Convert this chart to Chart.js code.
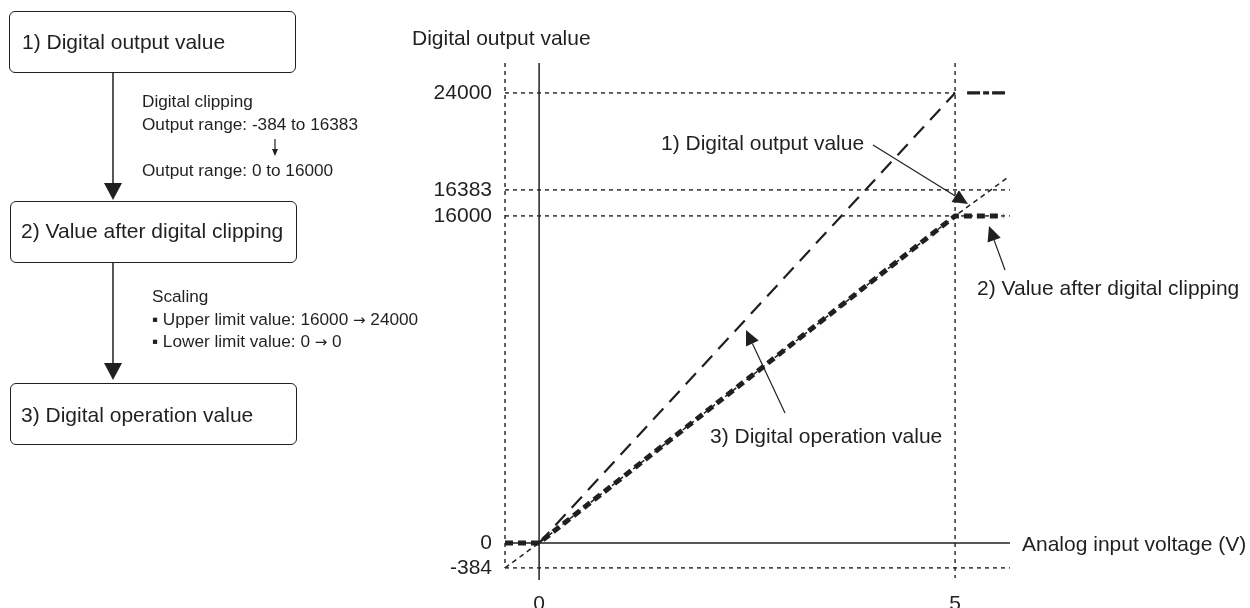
<!DOCTYPE html>
<html>
<head>
<meta charset="utf-8">
<script src="https://cdn.jsdelivr.net/npm/chart.js@4.4.0/dist/chart.umd.min.js"></script>
<style>
html, body { margin: 0; padding: 0; background: #fff; }
body { width: 1250px; height: 608px; position: relative; overflow: hidden;
       font-family: "Liberation Sans", Arial, sans-serif; color: #231f20; }
#chart { position: absolute; left: 0; top: 0; }
.t { position: absolute; white-space: nowrap; line-height: 1; }
.big { font-size: 21px; }
.small { font-size: 17.2px; }
.arr { font-family: "DejaVu Sans", sans-serif; font-size: 15px; }
.box { position: absolute; width: 287px; height: 62px; border: 1.5px solid #231f20;
       border-radius: 6px; box-sizing: border-box; }
</style>
</head>
<body>
<canvas id="chart" width="1250" height="608"></canvas>

<!-- flow chart on the left -->
<div class="box" style="left:9px;top:11px"></div>
<div class="box" style="left:10px;top:201px"></div>
<div class="box" style="left:10px;top:383px"></div>
<svg style="position:absolute;left:0;top:0" width="320" height="460">
  <line x1="113" y1="72" x2="113" y2="186" stroke="#231f20" stroke-width="1.5"/>
  <polygon points="104,183 122,183 113,200" fill="#231f20"/>
  <line x1="113" y1="263" x2="113" y2="366" stroke="#231f20" stroke-width="1.5"/>
  <polygon points="104,363 122,363 113,380" fill="#231f20"/>
  <line x1="275" y1="139" x2="275" y2="152" stroke="#231f20" stroke-width="1.2"/>
  <polygon points="272,149 278,149 275,156" fill="#231f20"/>
</svg>
<div class="t big" style="left:22px;top:31px">1) Digital output value</div>
<div class="t big" style="left:21px;top:220px">2) Value after digital clipping</div>
<div class="t big" style="left:21px;top:404px">3) Digital operation value</div>
<div class="t small" style="left:142px;top:93px">Digital clipping</div>
<div class="t small" style="left:142px;top:116px">Output range: -384 to 16383</div>
<div class="t small" style="left:142px;top:162px">Output range: 0 to 16000</div>
<div class="t small" style="left:152px;top:288px">Scaling</div>
<div class="t small" style="left:152px;top:311px">▪ Upper limit value: 16000 <span class="arr">→</span> 24000</div>
<div class="t small" style="left:152px;top:333px">▪ Lower limit value: 0 <span class="arr">→</span> 0</div>

<!-- chart texts -->
<div class="t big" style="left:412px;top:27px">Digital output value</div>
<div class="t big" style="left:1022px;top:533px">Analog input voltage (V)</div>
<div class="t big" style="left:661px;top:132px">1) Digital output value</div>
<div class="t big" style="left:977px;top:277px">2) Value after digital clipping</div>
<div class="t big" style="left:710px;top:425px">3) Digital operation value</div>

<script>
// 1) digital output value
var voltage1 = [-0.41, 0, 5, 5.43, 5.62];
var outputValue = [-384, 0, 16000, 16383, 17300];
// 2) value after digital clipping
var voltage2 = [-0.41, 0, 5, 5.58];
var clippedValue = [0, 0, 16000, 16000];
// 3) digital operation value
var voltage3 = [0, 5, 5.6];
var operationValue = [0, 24000, 24000];

var xTicks = [0, 5];
var yTicks = [-384, 0, 16000, 16383, 24000];

// the drawing is not to scale: each band between y ticks has its own height
var yBandPx = [-25, 0, 327, 353, 450];

function interp(v, from, to) {
    var i = 0;
    while (i < from.length - 2 && v > from[i + 1]) i++;
    return to[i] + (v - from[i]) * (to[i + 1] - to[i]) / (from[i + 1] - from[i]);
}
function warp(v) { return interp(v, yTicks, yBandPx); }
function unwarp(p) { return interp(p, yBandPx, yTicks); }

class BandScale extends Chart.LinearScale {
    configure() {
        super.configure();
        this._startValue = warp(this.min);
        this._endValue = warp(this.max);
        this._valueRange = this._endValue - this._startValue;
    }
    getPixelForValue(value) {
        if (value === null) return NaN;
        return this.getPixelForDecimal((warp(value) - this._startValue) / this._valueRange);
    }
    getValueForPixel(pixel) {
        return unwarp(this._startValue + this.getDecimalForPixel(pixel) * this._valueRange);
    }
}
BandScale.id = "band";
BandScale.defaults = {};
Chart.register(BandScale);

function points(xs, ys) {
    return xs.map(function (x, i) { return { x: x, y: ys[i] }; });
}

function line(ctx, x1, y1, x2, y2) {
    ctx.beginPath();
    ctx.moveTo(x1, y1);
    ctx.lineTo(x2, y2);
    ctx.stroke();
}

function arrow(ctx, x1, y1, x2, y2) {
    var ang = Math.atan2(y2 - y1, x2 - x1);
    var len = 15, half = 7;
    var bx = x2 - len * Math.cos(ang), by = y2 - len * Math.sin(ang);
    line(ctx, x1, y1, bx, by);
    ctx.beginPath();
    ctx.moveTo(x2, y2);
    ctx.lineTo(bx + half * Math.sin(ang), by - half * Math.cos(ang));
    ctx.lineTo(bx - half * Math.sin(ang), by + half * Math.cos(ang));
    ctx.closePath();
    ctx.fill();
}

var ink = "#231f20";

var guides = {
    id: "guides",
    beforeDatasetsDraw: function (chart) {
        var ctx = chart.ctx, a = chart.chartArea;
        var xs = chart.scales.x, ys = chart.scales.y;
        var x0 = xs.getPixelForValue(0), x5 = xs.getPixelForValue(5);
        var top = yTicks[yTicks.length - 1];
        ctx.save();
        ctx.strokeStyle = ink;
        ctx.lineWidth = 1.4;
        ctx.setLineDash([4, 4]);
        yTicks.forEach(function (v) {
            if (v === 0) return;
            var y = ys.getPixelForValue(v);
            line(ctx, a.left, y, v === top ? x5 : a.right, y);
        });
        line(ctx, x5, a.top, x5, a.bottom - 2);
        line(ctx, a.left, a.top, a.left, ys.getPixelForValue(yTicks[0]));
        ctx.setLineDash([]);
        ctx.lineWidth = 1.5;
        line(ctx, x0, a.top, x0, a.bottom);
        var y0 = ys.getPixelForValue(0);
        line(ctx, a.left, y0, a.right, y0);
        ctx.restore();
    },
    afterDatasetsDraw: function (chart) {
        var ctx = chart.ctx;
        ctx.save();
        ctx.strokeStyle = ink;
        ctx.fillStyle = ink;
        ctx.lineWidth = 1.2;
        arrow(ctx, 873, 145, 968, 204);
        arrow(ctx, 1005, 270, 989, 226);
        arrow(ctx, 785, 413, 746, 330);
        ctx.restore();
    }
};

Chart.defaults.font.family = '"Liberation Sans", Arial, sans-serif';
Chart.defaults.color = ink;

new Chart("chart", {
    type: "line",
    data: {
        datasets: [{
            label: "1) Digital output value",
            data: points(voltage1, outputValue),
            borderColor: ink,
            borderWidth: 1.5,
            borderDash: [5, 4],
            pointRadius: 0
        }, {
            label: "2) Value after digital clipping",
            data: points(voltage2, clippedValue),
            borderColor: ink,
            borderWidth: 5,
            borderDash: [8, 5],
            pointRadius: 0
        }, {
            label: "3) Digital operation value",
            data: points(voltage3, operationValue),
            borderColor: ink,
            borderWidth: 2.2,
            borderDash: [15, 9],
            pointRadius: 0,
            segment: {
                borderDash: function (c) { return c.p0.parsed.x >= 5 ? [13, 3, 6, 3, 13, 12] : undefined; },
                borderDashOffset: function (c) { return c.p0.parsed.x >= 5 ? 38 : undefined; },
                borderWidth: function (c) { return c.p0.parsed.x >= 5 ? 3.2 : undefined; }
            }
        }]
    },
    options: {
        responsive: false,
        animation: false,
        layout: { padding: { left: 0, right: 240, top: 63, bottom: 0 } },
        plugins: { legend: { display: false }, tooltip: { enabled: false } },
        scales: {
            x: {
                type: "linear",
                min: -0.41,
                max: 5.66,
                afterBuildTicks: function (s) { s.ticks = xTicks.map(function (v) { return { value: v }; }); },
                afterFit: function (s) { s.height = 28; },
                ticks: { autoSkip: false, maxRotation: 0, padding: 12, font: { size: 21 },
                         callback: function (v) { return String(v); } },
                grid: { display: false, drawTicks: false },
                border: { display: false }
            },
            y: {
                type: "band",
                min: -570,
                max: 26350,
                afterBuildTicks: function (s) { s.ticks = yTicks.map(function (v) { return { value: v }; }); },
                afterFit: function (s) { s.width = 505; },
                ticks: { autoSkip: false, padding: 13, font: { size: 21 },
                         callback: function (v) { return String(v); } },
                grid: { display: false, drawTicks: false },
                border: { display: false }
            }
        }
    },
    plugins: [guides]
});
</script>
</body>
</html>
